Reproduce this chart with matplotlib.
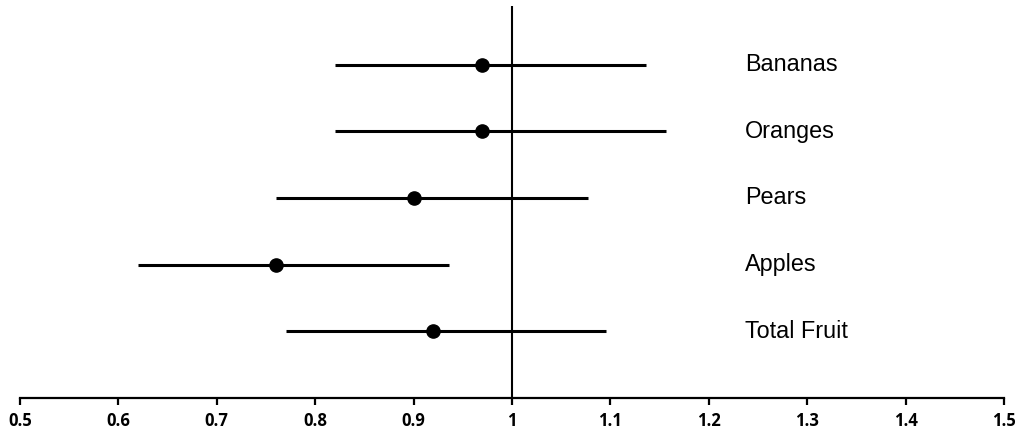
import numpy as np
import matplotlib as mpl
mpl.use('agg')
import matplotlib.pyplot as plt

labels = ['Bananas', 'Oranges', 'Pears', 'Apples', 'Total Fruit']
est = np.array([0.97, 0.97, 0.90, 0.76, 0.92])
lo = np.array([0.82, 0.82, 0.76, 0.62, 0.77])
hi = np.array([1.136, 1.156, 1.077, 0.936, 1.096])
xticks = np.arange(0.5, 1.51, 0.1)
xticklabels = ['0.5', '0.6', '0.7', '0.8', '0.9', '1', '1.1', '1.2', '1.3', '1.4', '1.5']

ypos = np.arange(len(labels))[::-1] + 1

fig = plt.figure(figsize=(10.24, 4.36), dpi=100)
ax = fig.add_axes([20/1024, 38/436, 984/1024, 392/436])

ax.errorbar(est, ypos, xerr=[est - lo, hi - est], fmt='o', color='black',
            ms=9.5, lw=2.2, capsize=0, zorder=5)
ax.axvline(1.0, color='black', lw=1.5, zorder=4)

for y, lab in zip(ypos, labels):
    ax.text(1.237, y, lab, fontsize=16.8, family='Liberation Sans',
            va='center', ha='left')

ax.set_xlim(0.5, 1.5)
ax.set_ylim(0, 5.88)
ax.set_xticks(xticks)
ax.set_xticklabels(xticklabels, fontsize=12, fontweight='bold',
                   family='Open Sans')
ax.set_yticks([])
for s in ['top', 'right', 'left']:
    ax.spines[s].set_visible(False)
ax.spines['bottom'].set_linewidth(1.6)
ax.tick_params(axis='x', length=5, width=1.6, pad=5)

plt.savefig('out.png', dpi=100)
